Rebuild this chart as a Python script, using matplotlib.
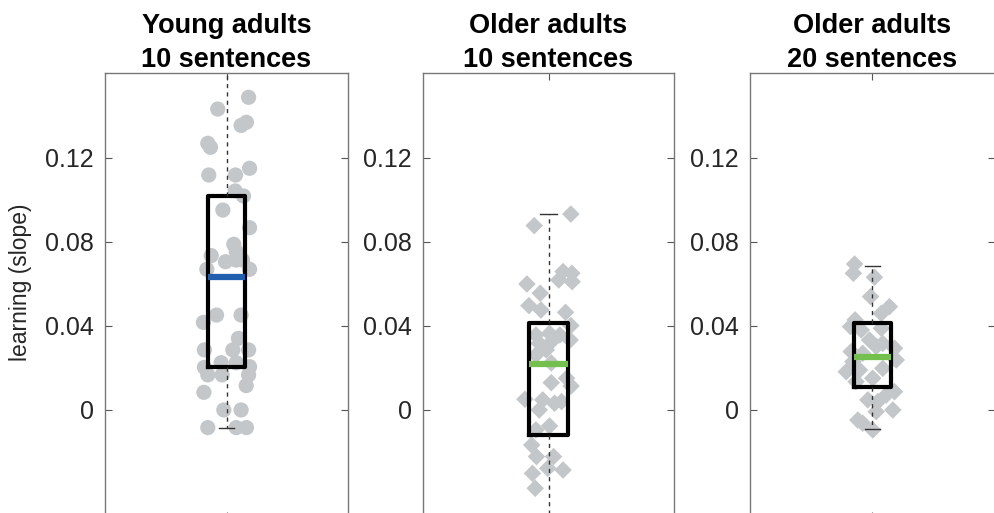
import matplotlib
matplotlib.use("Agg")
import matplotlib.pyplot as plt

plt.rcParams['font.family'] = ['Liberation Sans', 'DejaVu Sans']

# --- data ---
titles = ["Young adults\n10 sentences", "Older adults\n10 sentences", "Older adults\n20 sentences"]

young10_x = [0.091, -0.036, 0.082, 0.060, -0.077, -0.066, 0.095, -0.073, 0.037, 0.036, 0.070,
             -0.015, 0.095, 0.030, -0.063, 0.040, -0.004, 0.040, 0.066, -0.081, 0.095, -0.041,
             0.060, -0.095, 0.049, -0.091, 0.026, 0.091, -0.022, 0.040, -0.091, 0.095, -0.077,
             -0.018, 0.091, 0.081, -0.093, -0.011, 0.060, -0.077, 0.040, 0.082]
young10_y = [0.1489, 0.1433, 0.137, 0.1355, 0.127, 0.1251, 0.1151, 0.1119, 0.1119, 0.1043, 0.1019,
             0.0952, 0.0868, 0.0789, 0.0735, 0.0754, 0.0706, 0.0714, 0.0714, 0.067, 0.067, 0.0452,
             0.0452, 0.0417, 0.0341, 0.0286, 0.0286, 0.0286, 0.0225, 0.0225, 0.0203, 0.0206, 0.0167,
             0.0167, 0.0167, 0.0116, 0.0084, 0.0, 0.0, -0.0084, -0.0084, -0.0084]

older10_x = [0.089, -0.057, 0.058, 0.093, -0.086, 0.041, 0.094, -0.033, -0.078, -0.030, 0.068,
             0.089, -0.050, 0.004, 0.045, 0.086, -0.037, 0.011, -0.009, -0.050, 0.011, 0.072,
             0.011, 0.090, -0.094, -0.023, 0.024, 0.052, -0.037, 0.004, -0.050, -0.067, -0.048,
             0.020, -0.003, 0.058, -0.064, -0.053]
older10_y = [0.0933, 0.0878, 0.0659, 0.0651, 0.06, 0.0619, 0.0611, 0.0556, 0.0497, 0.0476, 0.0465,
             0.0402, 0.0357, 0.0365, 0.0357, 0.0333, 0.0317, 0.0325, 0.0286, 0.0262, 0.0224, 0.0151,
             0.013, 0.0114, 0.0051, 0.0048, 0.0032, 0.004, 0.0, -0.0076, -0.0095, -0.0167, -0.0222,
             -0.0222, -0.0278, -0.0286, -0.0302, -0.0373]

older20_x = [-0.073, -0.078, 0.008, -0.008, 0.069, 0.036, -0.071, -0.090, -0.046, 0.036, -0.012,
             0.042, 0.090, -0.087, -0.040, 0.015, -0.080, 0.097, -0.107, -0.053, 0.042, 0.001,
             -0.067, 0.090, 0.056, -0.019, 0.022, 0.083, 0.015, -0.060, -0.040, 0.001]
older20_y = [0.0695, 0.0651, 0.0632, 0.054, 0.0492, 0.046, 0.0429, 0.0397, 0.0381, 0.0389, 0.0333,
             0.0317, 0.0294, 0.0278, 0.027, 0.0302, 0.023, 0.0238, 0.0182, 0.019, 0.0198, 0.0151,
             0.0135, 0.0087, 0.0071, 0.0048, 0.004, 0.0, -0.0008, -0.0048, -0.0063, -0.0095]

# box stats: q1, median, q3, lower whisker, upper whisker
box_q1 = [0.0203, -0.0119, 0.0111]
box_med = [0.0633, 0.0217, 0.0254]
box_q3 = [0.1019, 0.0413, 0.0413]
box_lo = [-0.0084, -0.060, -0.0090]
box_hi = [0.170, 0.0933, 0.0687]

groups = [(young10_x, young10_y), (older10_x, older10_y), (older20_x, older20_y)]
markers = ['o', 'D', 'D']
msizes = [120, 80, 80]
med_colors = ['#1f5fae', '#74c04f', '#74c04f']

fig = plt.figure(figsize=(9.95, 5.13), dpi=100)
lefts = [105, 423, 750]
widths = [243, 251, 245]

for i in range(3):
    ax = fig.add_axes([lefts[i] / 995, -0.012, widths[i] / 995, 0.8698])
    xs = [1 + v for v in groups[i][0]]
    ax.scatter(xs, groups[i][1], marker=markers[i], s=msizes[i], color='#c3c7c9',
               edgecolors='none', zorder=1)
    stats = [dict(med=box_med[i], q1=box_q1[i], q3=box_q3[i],
                  whislo=box_lo[i], whishi=box_hi[i], fliers=[])]
    ax.bxp(stats, positions=[1], widths=0.152, capwidths=0.065, showfliers=False,
           boxprops=dict(color='black', lw=3),
           medianprops=dict(color=med_colors[i], lw=4.5, solid_capstyle='butt'),
           whiskerprops=dict(color='#333333', lw=1, linestyle=(0, (3, 3))),
           capprops=dict(color='#333333', lw=1), manage_ticks=False, zorder=3)
    ax.set_xlim(0.5, 1.5)
    ax.set_ylim(-0.052, 0.1605)
    ax.set_yticks([0, 0.04, 0.08, 0.12])
    ax.set_yticklabels(['0', '0.04', '0.08', '0.12'])
    ax.set_xticks([1])
    ax.set_xticklabels([])
    ax.tick_params(axis='both', direction='in', length=5, width=0.8, color='#555555',
                   labelsize=18, labelcolor='#262626', top=True, right=True, pad=8)
    for sp in ax.spines.values():
        sp.set_color('#777777')
        sp.set_linewidth(1)
    ax.set_title(titles[i], fontsize=19.5, fontweight='bold', linespacing=1.4, pad=4)
    if i == 0:
        ax.set_ylabel('learning (slope)', fontsize=16.5, color='#262626')
        ax.yaxis.set_label_coords(-0.30, 0.53)

plt.savefig('out.png', dpi=100)
